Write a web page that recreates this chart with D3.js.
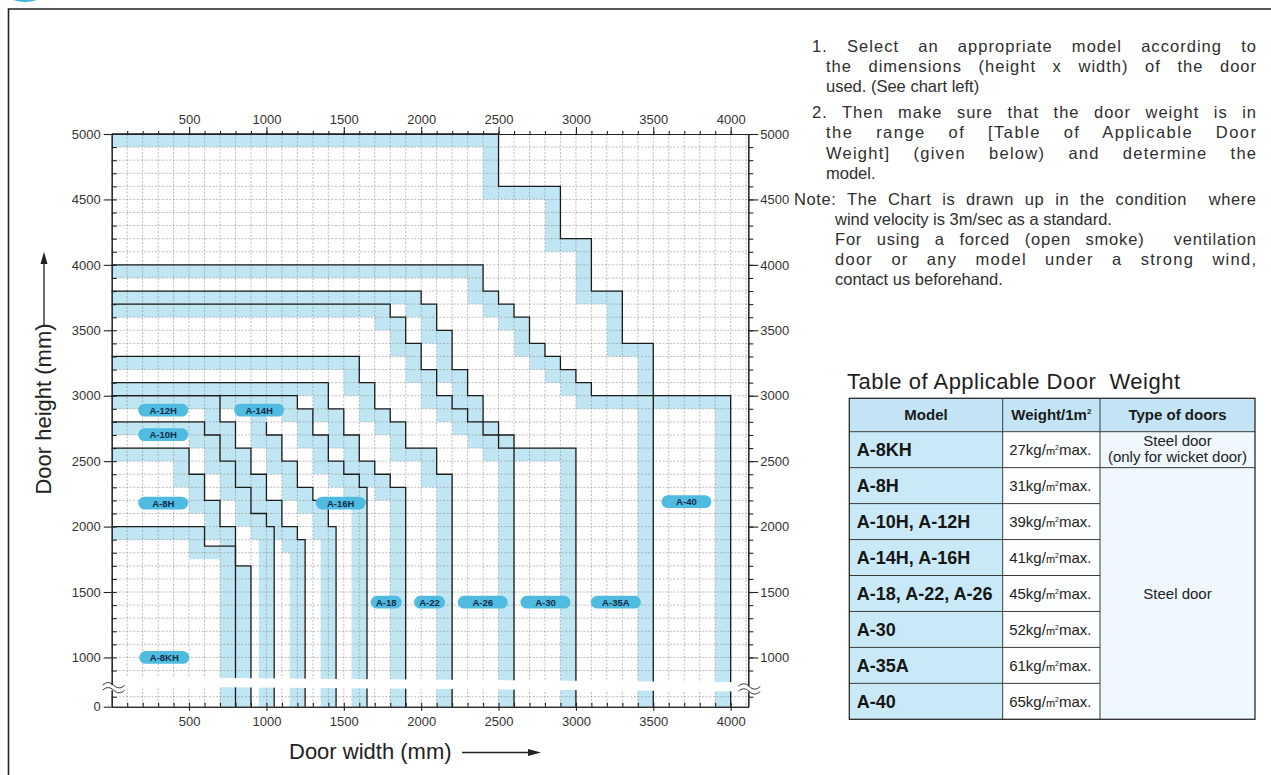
<!DOCTYPE html>
<html>
<head>
<meta charset="utf-8">
<script src="https://cdn.jsdelivr.net/npm/d3@7"></script>
<style>
  body { margin: 0; background: #fff; }
  svg { display: block; font-family: "Liberation Sans", Arial, Helvetica, sans-serif; }
</style>
</head>
<body>
<div id="wrapper"></div>
<script>
// 1. Data (door width / height in mm)

// step outlines of each model, from top-left down to the bottom
const stepsA8KH = [[0, 2000], [600, 2000], [600, 1850], [800, 1850], [800, 0]];
const stepsA8H = [[0, 2600], [500, 2600], [500, 2400], [600, 2400], [600, 2200], [700, 2200], [700, 2000], [800, 2000], [800, 1700], [900, 1700], [900, 0]];
const stepsA10H = [[0, 2800], [600, 2800], [600, 2700], [700, 2700], [700, 2500], [800, 2500], [800, 2300], [900, 2300], [900, 2100], [1000, 2100], [1000, 2000], [1050, 2000], [1050, 0]];
const stepsA12H = [[0, 3000], [700, 3000], [700, 2800], [800, 2800], [800, 2600], [900, 2600], [900, 2400], [1000, 2400], [1000, 2200], [1100, 2200], [1100, 2000], [1200, 2000], [1200, 1900], [1250, 1900], [1250, 0]];
const stepsA14H = [[1000, 2800], [1000, 2700], [1100, 2700], [1100, 2500], [1200, 2500], [1200, 2300], [1300, 2300], [1300, 2200], [1400, 2200], [1400, 2000], [1450, 2000], [1450, 0]];
const stepsA16H = [[0, 3000], [1200, 3000], [1200, 2900], [1300, 2900], [1300, 2700], [1400, 2700], [1400, 2500], [1500, 2500], [1500, 2400], [1600, 2400], [1600, 2300], [1650, 2300], [1650, 0]];
const stepsA18 = [[0, 3100], [1400, 3100], [1400, 2900], [1500, 2900], [1500, 2700], [1600, 2700], [1600, 2500], [1700, 2500], [1700, 2400], [1800, 2400], [1800, 2300], [1900, 2300], [1900, 0]];
const stepsA22 = [[0, 3300], [1600, 3300], [1600, 3100], [1700, 3100], [1700, 2900], [1800, 2900], [1800, 2800], [1900, 2800], [1900, 2600], [2100, 2600], [2100, 2400], [2200, 2400], [2200, 0]];
const stepsA26 = [[0, 3700], [1800, 3700], [1800, 3600], [1900, 3600], [1900, 3400], [2000, 3400], [2000, 3200], [2100, 3200], [2100, 3000], [2200, 3000], [2200, 2900], [2300, 2900], [2300, 2800], [2400, 2800], [2400, 2700], [2500, 2700], [2500, 2600], [2600, 2600], [2600, 0]];
const stepsA30 = [[0, 3800], [2000, 3800], [2000, 3700], [2100, 3700], [2100, 3500], [2200, 3500], [2200, 3200], [2300, 3200], [2300, 3000], [2400, 3000], [2400, 2800], [2500, 2800], [2500, 2700], [2600, 2700], [2600, 2600], [3000, 2600], [3000, 0]];
const stepsA35A = [[0, 4000], [2400, 4000], [2400, 3800], [2500, 3800], [2500, 3700], [2600, 3700], [2600, 3600], [2700, 3600], [2700, 3400], [2800, 3400], [2800, 3300], [2900, 3300], [2900, 3200], [3000, 3200], [3000, 3100], [3100, 3100], [3100, 3000], [3500, 3000], [3500, 0]];
const stepsA40 = [[0, 5000], [2500, 5000], [2500, 4600], [2900, 4600], [2900, 4200], [3100, 4200], [3100, 3800], [3300, 3800], [3300, 3400], [3500, 3400], [3500, 3000], [4000, 3000], [4000, 0]];

const modelNames = ['A-8KH', 'A-8H', 'A-10H', 'A-12H', 'A-14H', 'A-16H', 'A-18', 'A-22', 'A-26', 'A-30', 'A-35A', 'A-40'];
const modelSteps = [stepsA8KH, stepsA8H, stepsA10H, stepsA12H, stepsA14H, stepsA16H, stepsA18, stepsA22, stepsA26, stepsA30, stepsA35A, stepsA40];
// height of the region's top edge (A-14H's outline starts below its top)
const modelTops = [2000, 2600, 2800, 3000, 3000, 3000, 3100, 3300, 3700, 3800, 4000, 5000];
// tolerance band width inside each outline
const bandDepth = 100;

// model tags, centre in mm
const tagX = [340, 333, 333, 333, 953, 1480, 1774, 2054, 2398, 2803, 3258, 3714];
const tagY = [1000, 2180, 2702, 2890, 2890, 2180, 1422, 1422, 1422, 1422, 1422, 2190];

// axes
const xMajor = d3.range(500, 4001, 500);
const xMinor = d3.range(100, 4001, 100);
const yMajor = d3.range(1000, 5001, 500);
const yMinor = [700].concat(d3.range(900, 5000, 100));
const xGrid = d3.range(100, 4101, 100);
const yGrid = d3.range(700, 5000, 100);

// notes
const noteLines = [
  '1. Select an appropriate model according to',
  'the dimensions (height x width) of the door',
  'used. (See chart left)',
  '2. Then make sure that the door weight is in',
  'the range of [Table of Applicable Door',
  'Weight] (given below) and determine the',
  'model.',
  'Note: The Chart is drawn up in the condition  where',
  'wind velocity is 3m/sec as a standard.',
  'For using a forced (open smoke)  ventilation',
  'door or any model under a strong wind,',
  'contact us beforehand.'
];

// table
const tableTitle = 'Table of Applicable Door  Weight';
const tableModels = ['A-8KH', 'A-8H', 'A-10H, A-12H', 'A-14H, A-16H', 'A-18, A-22, A-26', 'A-30', 'A-35A', 'A-40'];
const tableWeights = [27, 31, 39, 41, 45, 52, 61, 65];
const wicketType = ['Steel door', '(only for wicket door)'];
const steelType = 'Steel door';

// 2. Dimensions

const width = 1271;
const height = 775;

const xScale = d3.scaleLinear().domain([0, 4114]).range([111.7, 748.3]);
// the part below 700 mm is squeezed under the axis break
const yScale = d3.scaleLinear().domain([0, 700, 5000]).range([706.7, 696.7, 134]);

// 3. Canvas

const svg = d3.select('#wrapper')
  .append('svg')
  .attr('width', width)
  .attr('height', height);

// page frame
svg.append('circle').attr('cx', 25).attr('cy', -35).attr('r', 37).attr('fill', '#3fb6db');
svg.append('path')
  .attr('d', `M8.5,${height + 5} V9 H${width + 5}`)
  .attr('fill', 'none')
  .attr('stroke', '#222')
  .attr('stroke-width', 1.6);

const bounds = svg.append('g');

// 4. Bands, grid, outlines

const toPath = (pts) => 'M' + pts.map((d) => `${xScale(d[0])},${yScale(d[1])}`).join('L') + 'Z';

const regionOf = (steps, top) => {
  const last = steps[steps.length - 1];
  return [[0, 0], [0, top], [steps[0][0], top]].concat(steps, [[last[0], 0]]);
};
const shrink = (pts) => pts.map((d) => [Math.max(0, d[0] - bandDepth), Math.max(0, d[1] - bandDepth)]);

bounds.append('g')
  .selectAll('path')
  .data(modelSteps)
  .join('path')
  .attr('d', (d, i) => {
    const region = regionOf(d, modelTops[i]);
    return toPath(region) + toPath(shrink(region));
  })
  .attr('fill', '#c0e6f3')
  .attr('fill-rule', 'evenodd');

const grid = bounds.append('g')
  .attr('stroke', '#8f8f8f')
  .attr('stroke-width', 0.6)
  .attr('stroke-dasharray', '2,1.6');

grid.selectAll('.gx')
  .data(xGrid)
  .join('line')
  .attr('class', 'gx')
  .attr('x1', (d) => xScale(d))
  .attr('x2', (d) => xScale(d))
  .attr('y1', yScale(5000))
  .attr('y2', yScale(0));

grid.selectAll('.gy')
  .data(yGrid)
  .join('line')
  .attr('class', 'gy')
  .attr('x1', xScale(0))
  .attr('x2', xScale(4114))
  .attr('y1', (d) => yScale(d))
  .attr('y2', (d) => yScale(d));

const stepLine = d3.line().x((d) => xScale(d[0])).y((d) => yScale(d[1]));

bounds.append('g')
  .selectAll('path')
  .data(modelSteps)
  .join('path')
  .attr('d', stepLine)
  .attr('fill', 'none')
  .attr('stroke', '#1c1c1c')
  .attr('stroke-width', 1.3);

// model tags
const narrowTags = ['A-18', 'A-22'];
const tags = bounds.append('g')
  .selectAll('g')
  .data(modelNames)
  .join('g')
  .attr('transform', (d, i) => `translate(${xScale(tagX[i])},${yScale(tagY[i])})`);

tags.append('rect')
  .attr('x', (d) => (narrowTags.includes(d) ? -15.5 : -25))
  .attr('y', -6.4)
  .attr('width', (d) => (narrowTags.includes(d) ? 31 : 50))
  .attr('height', 12.8)
  .attr('rx', 6.4)
  .attr('fill', '#4fbbe0');

tags.append('text')
  .attr('text-anchor', 'middle')
  .attr('y', 3.5)
  .attr('font-size', 9.5)
  .attr('font-weight', 'bold')
  .attr('fill', '#0f2c48')
  .text((d) => d);

// axis break
const gapLeft = [yScale(850), yScale(780)];
const gapRight = [yScale(810), yScale(740)];
bounds.append('path')
  .attr('d', `M${xScale(0) + 1},${gapLeft[0]} L${xScale(4114) - 1},${gapRight[0]} L${xScale(4114) - 1},${gapRight[1]} L${xScale(0) + 1},${gapLeft[1]} Z`)
  .attr('fill', '#fff');

// 5. Axes

const styleAxis = (g) => {
  g.attr('font-family', null).attr('font-size', null);
  g.selectAll('path.domain, line').attr('stroke', '#222').attr('stroke-width', 1.1);
  g.selectAll('text').attr('font-size', 13).attr('fill', '#333');
};
const plain = d3.format('d');

svg.append('g')
  .attr('transform', `translate(0,${yScale(5000)})`)
  .call(d3.axisTop(xScale).tickValues(xMinor).tickSize(3).tickSizeOuter(0).tickFormat(''))
  .call(styleAxis);
svg.append('g')
  .attr('transform', `translate(0,${yScale(5000)})`)
  .call(d3.axisTop(xScale).tickValues(xMajor).tickSize(7).tickSizeOuter(0).tickPadding(3).tickFormat(plain))
  .call(styleAxis);

svg.append('g')
  .attr('transform', `translate(0,${yScale(0)})`)
  .call(d3.axisBottom(xScale).tickValues(xMinor).tickSize(-4).tickSizeOuter(0).tickFormat(''))
  .call(styleAxis);
svg.append('g')
  .attr('transform', `translate(0,${yScale(0)})`)
  .call(d3.axisBottom(xScale).tickValues(xMajor).tickSize(4).tickSizeOuter(0).tickPadding(6).tickFormat(plain))
  .call(styleAxis);

svg.append('g')
  .attr('transform', `translate(${xScale(0)},0)`)
  .call(d3.axisLeft(yScale).tickValues(yMinor).tickSize(-5).tickSizeOuter(0).tickFormat(''))
  .call(styleAxis);
svg.append('g')
  .attr('transform', `translate(${xScale(0)},0)`)
  .call(d3.axisLeft(yScale).tickValues([0].concat(yMajor)).tickSize(8).tickSizeOuter(0).tickPadding(3).tickFormat(plain))
  .call(styleAxis);

svg.append('g')
  .attr('transform', `translate(${xScale(4114)},0)`)
  .call(d3.axisRight(yScale).tickValues(yMinor).tickSize(5).tickSizeOuter(0).tickFormat(''))
  .call(styleAxis);
svg.append('g')
  .attr('transform', `translate(${xScale(4114)},0)`)
  .call(d3.axisRight(yScale).tickValues(yMajor).tickSize(10).tickSizeOuter(0).tickPadding(2).tickFormat(plain))
  .call(styleAxis);

// break marks on both vertical axes
const breakMark = (x0, yTop) => {
  const g = svg.append('g');
  g.append('rect').attr('x', x0).attr('y', yTop).attr('width', 22).attr('height', 5).attr('fill', '#fff');
  [yTop, yTop + 5].forEach((yy) => {
    g.append('path')
      .attr('d', `M${x0},${yy} c3.5,-3.5 7.5,-3.5 11,0 s7.5,3.5 11,0`)
      .attr('fill', 'none')
      .attr('stroke', '#333')
      .attr('stroke-width', 1);
  });
};
breakMark(xScale(0) - 9, gapLeft[1] - 1);
breakMark(xScale(4114) - 10, gapRight[1] - 5);

// axis titles
svg.append('text')
  .attr('transform', 'translate(51,409) rotate(-90)')
  .attr('text-anchor', 'middle')
  .attr('font-size', 22)
  .attr('fill', '#222')
  .text('Door height (mm)');
svg.append('line').attr('x1', 44).attr('x2', 44).attr('y1', 327).attr('y2', 262).attr('stroke', '#222').attr('stroke-width', 1.3);
svg.append('path').attr('d', 'M44,251.7 L40.5,264 L47.5,264 Z').attr('fill', '#222');

svg.append('text')
  .attr('x', 289)
  .attr('y', 759)
  .attr('font-size', 22)
  .attr('fill', '#222')
  .text('Door width (mm)');
svg.append('line').attr('x1', 462).attr('x2', 530).attr('y1', 752.5).attr('y2', 752.5).attr('stroke', '#222').attr('stroke-width', 1.3);
svg.append('path').attr('d', 'M541,752.5 L528,749 L528,756 Z').attr('fill', '#222');

// 6. Notes

// [left x, baseline, justified]
const noteLayout = [
  [812, 52, true], [826, 72, true], [826, 92, false],
  [812, 118, true], [826, 138, true], [826, 159, true], [826, 179, false],
  [794, 205, true], [835, 225, false], [835, 245, true], [835, 265, true], [835, 285, false]
];
const noteRight = 1256;

const notes = svg.append('g')
  .selectAll('text')
  .data(noteLines)
  .join('text')
  .attr('x', (d, i) => noteLayout[i][0])
  .attr('y', (d, i) => noteLayout[i][1])
  .attr('font-size', 16.5)
  .attr('fill', '#2e2e2e')
  .style('white-space', 'pre')
  .text((d) => d);

// justify: spread the spare room over letters and word gaps
notes.each(function (d, i) {
  if (!noteLayout[i][2]) return;
  const spare = noteRight - noteLayout[i][0] - this.getComputedTextLength();
  const gaps = d.split(' ').length - 1;
  d3.select(this)
    .attr('letter-spacing', (spare * 0.35) / (d.length - 1))
    .attr('word-spacing', (spare * 0.65) / gaps);
});

// 7. Table

const tbl = { left: 849.3, right: 1255, top: 398.3, head: 33.4, row: 35.95, col1: 1002.7, col2: 1100 };
const rowTop = (i) => tbl.top + tbl.head + i * tbl.row;
const tableBottom = rowTop(tableModels.length);

svg.append('text')
  .attr('x', 847)
  .attr('y', 388.5)
  .attr('font-size', 22)
  .attr('letter-spacing', 0.5)
  .attr('fill', '#1e1e1e')
  .style('white-space', 'pre')
  .text(tableTitle);

const table = svg.append('g');

// backgrounds
table.append('rect').attr('x', tbl.left).attr('y', tbl.top).attr('width', tbl.right - tbl.left).attr('height', tbl.head).attr('fill', '#c2e4f4');
table.append('rect').attr('x', tbl.left).attr('y', rowTop(0)).attr('width', tbl.col1 - tbl.left).attr('height', tableBottom - rowTop(0)).attr('fill', '#cae9f7');
table.append('rect').attr('x', tbl.col1).attr('y', rowTop(0)).attr('width', tbl.col2 - tbl.col1).attr('height', tableBottom - rowTop(0)).attr('fill', '#fdfeff');
table.append('rect').attr('x', tbl.col2).attr('y', rowTop(0)).attr('width', tbl.right - tbl.col2).attr('height', tableBottom - rowTop(0)).attr('fill', '#eef8fd');

// rules
const rules = table.append('g').attr('stroke', '#3a3a3a').attr('stroke-width', 1);
d3.range(0, tableModels.length).forEach((i) => {
  rules.append('line')
    .attr('x1', tbl.left)
    .attr('x2', i < 2 ? tbl.right : tbl.col2)
    .attr('y1', rowTop(i))
    .attr('y2', rowTop(i));
});
[tbl.col1, tbl.col2].forEach((cx) => {
  rules.append('line').attr('x1', cx).attr('x2', cx).attr('y1', tbl.top).attr('y2', tableBottom);
});
table.append('rect')
  .attr('x', tbl.left).attr('y', tbl.top)
  .attr('width', tbl.right - tbl.left).attr('height', tableBottom - tbl.top)
  .attr('fill', 'none').attr('stroke', '#2a2a2a').attr('stroke-width', 1.3);

// header
const headY = tbl.top + tbl.head / 2 + 5;
table.append('text').attr('x', (tbl.left + tbl.col1) / 2).attr('y', headY).attr('text-anchor', 'middle')
  .attr('font-size', 15).attr('font-weight', 'bold').attr('fill', '#1a1a1a').text('Model');
const wHead = table.append('text').attr('x', (tbl.col1 + tbl.col2) / 2).attr('y', headY).attr('text-anchor', 'middle')
  .attr('font-size', 15).attr('font-weight', 'bold').attr('fill', '#1a1a1a');
wHead.append('tspan').text('Weight/1m');
wHead.append('tspan').attr('font-size', 8).attr('dy', -6).text('2');
table.append('text').attr('x', (tbl.col2 + tbl.right) / 2).attr('y', headY).attr('text-anchor', 'middle')
  .attr('font-size', 15).attr('font-weight', 'bold').attr('fill', '#1a1a1a').text('Type of doors');

// rows
table.append('g')
  .selectAll('text')
  .data(tableModels)
  .join('text')
  .attr('x', tbl.left + 7.5)
  .attr('y', (d, i) => rowTop(i) + tbl.row / 2 + 6.5)
  .attr('font-size', 18)
  .attr('font-weight', 'bold')
  .attr('fill', '#161616')
  .text((d) => d);

const weights = table.append('g')
  .selectAll('text')
  .data(tableWeights)
  .join('text')
  .attr('x', tbl.col1 + 6.5)
  .attr('y', (d, i) => rowTop(i) + tbl.row / 2 + 5.5)
  .attr('font-size', 15)
  .attr('fill', '#222');
weights.append('tspan').text((d) => `${d}kg/`);
weights.append('tspan').attr('font-size', 11).text('m');
weights.append('tspan').attr('font-size', 7).attr('dy', -5).text('2');
weights.append('tspan').attr('dy', 5).text('max.');

table.append('g')
  .selectAll('text')
  .data(wicketType)
  .join('text')
  .attr('x', (tbl.col2 + tbl.right) / 2)
  .attr('y', (d, i) => rowTop(0) + 14.5 + i * 15.7)
  .attr('text-anchor', 'middle')
  .attr('font-size', 15)
  .attr('fill', '#222')
  .text((d) => d);

table.append('text')
  .attr('x', (tbl.col2 + tbl.right) / 2)
  .attr('y', (rowTop(1) + tableBottom) / 2 + 5.5)
  .attr('text-anchor', 'middle')
  .attr('font-size', 15)
  .attr('fill', '#222')
  .text(steelType);
</script>
</body>
</html>
